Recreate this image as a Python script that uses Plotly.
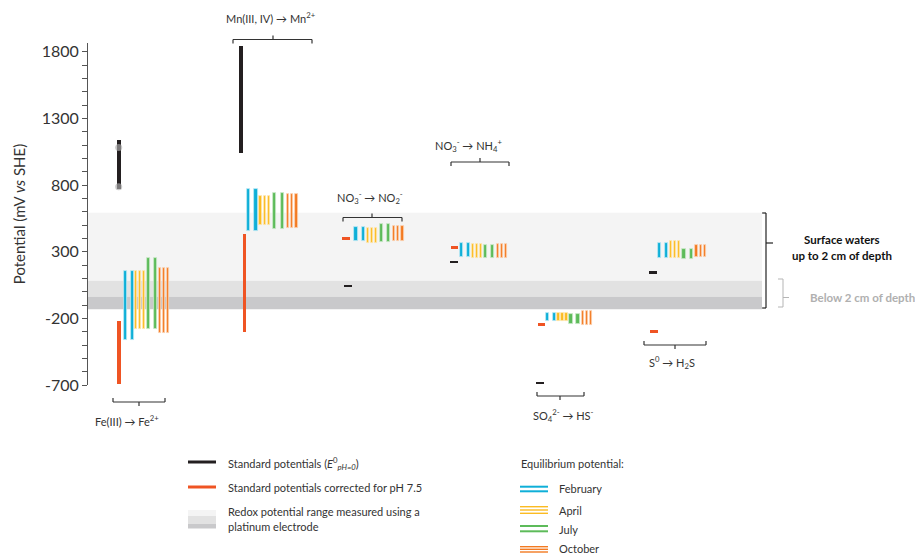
import plotly.graph_objects as go

# ---------------- data (mV vs SHE) ----------------
GROUPS = [
    "Fe(III) → Fe<sup>2+</sup>",
    "Mn(III, IV) → Mn<sup>2+</sup>",
    "NO<sub>3</sub><sup>-</sup> → NO<sub>2</sub><sup>-</sup>",
    "NO<sub>3</sub><sup>-</sup> → NH<sub>4</sub><sup>+</sup>",
    "SO<sub>4</sub><sup>2-</sup> → HS<sup>-</sup>",
    "S<sup>0</sup> → H<sub>2</sub>S",
]
E0_LOW = [768, 1038, 42, 222, -685, 142]
E0_HIGH = [1138, 1840, 42, 222, -685, 142]
E0_FE_POINTS = [1082, 787]
E75_LOW = [-692, -300, 400, 332, -248, -298]
E75_HIGH = [-220, 432, 400, 332, -248, -298]

MONTHS = ["February", "April", "July", "October"]
FEB_LOW = [-365, 457, 380, 258, -222, 250]
FEB_HIGH = [155, 770, 488, 362, -162, 368]
APR_LOW = [-282, 500, 367, 255, -222, 255]
APR_HIGH = [155, 720, 475, 360, -158, 380]
JUL_LOW = [-280, 467, 375, 255, -245, 242]
JUL_HIGH = [250, 740, 508, 350, -170, 320]
OCT_LOW = [-312, 475, 380, 250, -248, 258]
OCT_HIGH = [175, 735, 492, 358, -148, 348]

REDOX_SURFACE = [82, 592]
REDOX_MID = [-38, 82]
REDOX_DEEP = [-132, -38]
Y_TICKS = [-700, -200, 300, 800, 1300, 1800]

# ---------------- layout constants ----------------
W, H = 915, 555
ML, MT, MB = 88, 43, 170
PLOT_BOTTOM = H - MB
YMIN = -700
YMAX = YMIN + (PLOT_BOTTOM - MT) * 7.5

FONT = "Lato"
TXT = "#333333"
BLACK = "#231F20"
RED = "#EF5423"
COLORS = {"February": "#0FAFD8", "April": "#FBBB22", "July": "#5DBB5A", "October": "#F37A21"}
OUTLINE = {"February": "#BDE8F4", "April": "#FEE7B0", "July": "#CBE9C9", "October": "#FBD2B2"}
MONTH_OFFS = {"February": [0, 7], "April": [11, 15, 19], "July": [23.5, 30.5], "October": [35.5, 39.5, 43.5]}
MONTH_W = {"February": 3.3, "April": 2.2, "July": 3.3, "October": 2.2}
# per group: standard x, corrected x, first monthly bar x, spacing scale
GPOS = [
    (118.7, 119.0, 125.7, 0.966),
    (240.7, 244.3, 248.3, 1.11),
    (348.0, 346.0, 356.0, 1.07),
    (454.0, 454.7, 461.7, 1.02),
    (540.0, 541.7, 547.7, 0.99),
    (653.0, 654.0, 659.3, 1.05),
]
DASH_H = 20  # mV thickness of single-value dashes


def px(x):
    return (x - ML) / (W - ML)


def py(y):
    return (PLOT_BOTTOM - y) / (PLOT_BOTTOM - MT)


fig = go.Figure()

# standard potentials (black) and corrected (red)
for lows, highs, col, idx, wbar in [(E0_LOW, E0_HIGH, BLACK, 0, 4.0), (E75_LOW, E75_HIGH, RED, 1, 3.6)]:
    xs, bases, hs, ws = [], [], [], []
    for g in range(len(GROUPS)):
        lo, hi = lows[g], highs[g]
        xs.append(GPOS[g][idx])
        if hi > lo:
            bases.append(lo)
            hs.append(hi - lo)
            ws.append(wbar)
        else:
            bases.append(lo - DASH_H / 2)
            hs.append(DASH_H)
            ws.append(7.5)
    fig.add_trace(go.Bar(x=xs, y=hs, base=bases, width=ws, marker=dict(color=col, line=dict(width=0)),
                         showlegend=False, hoverinfo="skip"))

fig.add_trace(go.Scatter(x=[GPOS[0][0]] * len(E0_FE_POINTS), y=E0_FE_POINTS, mode="markers",
                         marker=dict(color="rgba(170,170,170,0.65)", size=7), showlegend=False, hoverinfo="skip"))

month_data = {"February": (FEB_LOW, FEB_HIGH), "April": (APR_LOW, APR_HIGH),
              "July": (JUL_LOW, JUL_HIGH), "October": (OCT_LOW, OCT_HIGH)}
for m in MONTHS:
    lows, highs = month_data[m]
    xs, bases, hs = [], [], []
    for g in range(len(GROUPS)):
        x0, s = GPOS[g][2], GPOS[g][3]
        for o in MONTH_OFFS[m]:
            xs.append(x0 + o * s)
            bases.append(lows[g])
            hs.append(highs[g] - lows[g])
    fig.add_trace(go.Bar(x=xs, y=hs, base=bases, width=MONTH_W[m],
                         marker=dict(color=COLORS[m], line=dict(color=OUTLINE[m], width=0.8)),
                         showlegend=False, hoverinfo="skip"))

shapes = []
# redox bands
for (lo, hi), col in [(REDOX_SURFACE, "#F4F4F4"), (REDOX_MID, "#E2E2E2"), (REDOX_DEEP, "#C9C9CB")]:
    shapes.append(dict(type="rect", xref="x", yref="y", x0=ML, x1=762, y0=lo, y1=hi,
                       fillcolor=col, line=dict(width=0), layer="below"))


def line(x0, y0, x1, y1, color="#333333", width=1.2):
    shapes.append(dict(type="line", xref="paper", yref="paper", x0=px(x0), y0=py(y0), x1=px(x1), y1=py(y1),
                       line=dict(color=color, width=width)))


annotations = []


def text(x, y, s, size=11, color=TXT, xanchor="center", bold=False):
    annotations.append(dict(x=px(x), y=py(y), xref="paper", yref="paper", text=("<b>%s</b>" % s) if bold else s,
                            showarrow=False, xanchor=xanchor, yanchor="middle",
                            font=dict(family=FONT, size=size, color=color)))


# group brackets: (x0, x1, xc, y, direction, label x, label y)
BRACKETS = [
    (113, 165, 139, 402, "down", 127, 421),
    (233, 312, 273, 39.5, "up", 271, 18),
    (343, 402, 372, 217.5, "up", 370, 197),
    (451, 509, 480, 162, "up", 468, 145),
    (537, 584, 560, 396, "down", 563, 416),
    (644, 706, 675, 345, "down", 672, 362),
]
for g, (x0, x1, xc, yb, d, lx, ly) in enumerate(BRACKETS):
    e = 4 if d == "up" else -4
    line(x0, yb, x1, yb)
    line(x0, yb, x0, yb + e)
    line(x1, yb, x1, yb + e)
    line(xc, yb, xc, yb - e)
    text(lx, ly, GROUPS[g], size=11)

# right-side brackets
ys_top, ys_bot = 213, 308
line(766, ys_top, 766, ys_bot, "#222222", 1.2)
line(762, ys_top, 766, ys_top, "#222222", 1.2)
line(762, ys_bot, 766, ys_bot, "#222222", 1.2)
line(766, 243, 773, 243, "#222222", 1.2)
text(842, 240, "Surface waters", size=11.5, color="#111111", bold=True)
text(842, 256, "up to 2 cm of depth", size=11.5, color="#111111", bold=True)
line(783, 279, 783, 307, "#B5B5B5", 1)
line(778, 279, 783, 279, "#B5B5B5", 1)
line(778, 307, 783, 307, "#B5B5B5", 1)
line(783, 297.5, 789, 297.5, "#B5B5B5", 1)
text(808, 297, "Below 2 cm of depth", size=11.5, color="#B0B0B0", xanchor="left", bold=True)

# legend (left)
line(188, 462, 216, 462, BLACK, 3)
text(226, 464, "Standard potentials (<i>E</i><sup>0</sup><sub><i>pH=0</i></sub>)", xanchor="left")
line(188, 487, 216, 487, RED, 3)
text(226, 487, "Standard potentials corrected for pH 7.5", xanchor="left")
for y0, y1, col in [(510, 516, "#F4F4F4"), (516, 524, "#E2E2E2"), (524, 528.5, "#C9C9CB")]:
    shapes.append(dict(type="rect", xref="paper", yref="paper", x0=px(188), x1=px(216), y0=py(y0), y1=py(y1),
                       fillcolor=col, line=dict(width=0)))
text(226, 511, "Redox potential range measured using a", xanchor="left")
text(226, 526, "platinum electrode", xanchor="left")

# legend (right)
text(519, 464, "Equilibrium potential:", xanchor="left")
LEG_Y = {"February": [486.7, 491.3], "April": [506.7, 510, 513.3], "July": [526, 531.3], "October": [546.7, 549.3, 552]}
LEG_T = {"February": 488, "April": 510, "July": 529.5, "October": 548.5}
for m in MONTHS:
    lw = 2 if len(LEG_Y[m]) == 2 else 1.4
    for yy in LEG_Y[m]:
        line(520, yy, 548, yy, COLORS[m], lw)
    text(557, LEG_T[m], m, xanchor="left")

fig.update_layout(
    width=W, height=H,
    margin=dict(l=ML, r=0, t=MT, b=MB, pad=0),
    plot_bgcolor="white", paper_bgcolor="white",
    barmode="overlay", bargap=0,
    shapes=shapes, annotations=annotations,
    font=dict(family=FONT, color=TXT),
    xaxis=dict(range=[ML, W], visible=False, fixedrange=True),
    yaxis=dict(range=[YMIN, YMAX], tickvals=Y_TICKS, ticktext=[str(v) for v in Y_TICKS],
               ticks="outside", ticklen=5, tickwidth=1, tickcolor="#555555",
               showline=True, linecolor="#555555", linewidth=1, showgrid=False, zeroline=False,
               minor=dict(tick0=-700, dtick=100, ticks="outside", ticklen=5, tickcolor="#555555", showgrid=False),
               tickfont=dict(family=FONT, size=16, color=TXT),
               title=dict(text="Potential (mV <i>vs</i> SHE)", font=dict(family=FONT, size=15, color=TXT), standoff=12)),
)

fig.write_html("out.html", config={"displayModeBar": False},
               post_script="document.body.style.margin='0';document.body.style.overflow='hidden';")
